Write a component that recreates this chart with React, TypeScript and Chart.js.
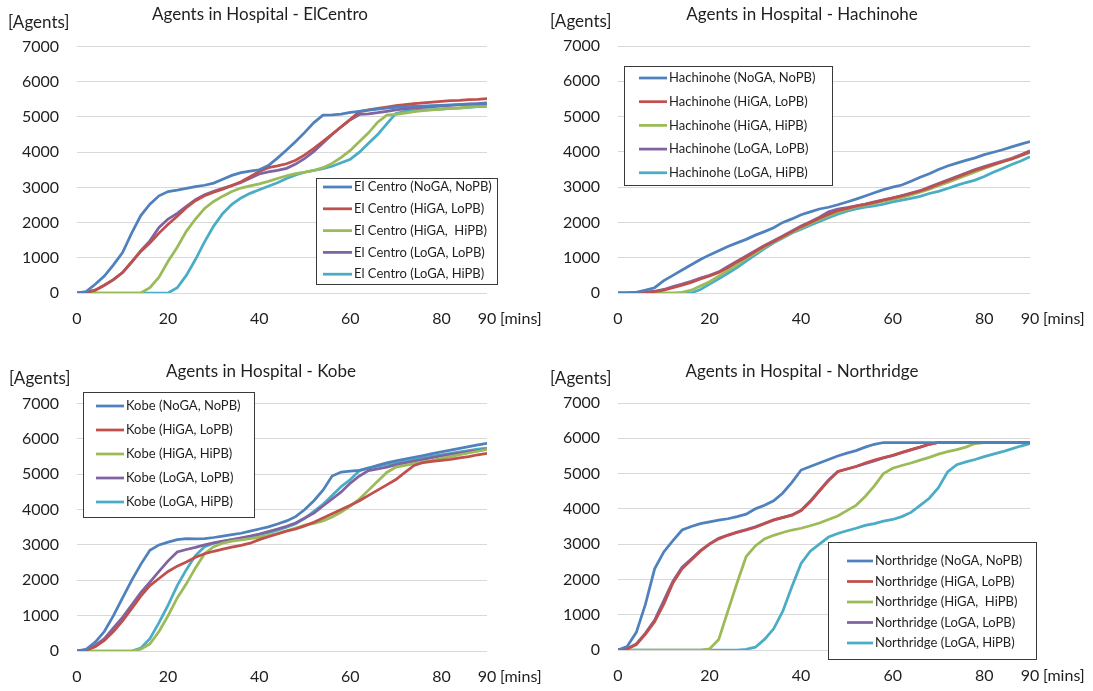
import React, { useEffect, useRef } from "react";
import { Chart, registerables } from "chart.js";

Chart.register(...registerables);

// ---------- data ----------
const MINUTES = [0, 2, 4, 6, 8, 10, 12, 14, 16, 18, 20, 22, 24, 26, 28, 30, 32, 34, 36, 38, 40, 42, 44, 46, 48, 50, 52, 54, 56, 58, 60, 62, 64, 66, 68, 70, 72, 74, 76, 78, 80, 82, 84, 86, 88, 90];
const X_TICKS = [0, 20, 40, 60, 80, 90];
const Y_MAX = 7000;
const Y_STEP = 1000;

const SERIES_COLORS = ["#4F81BD", "#C0504D", "#9BBB59", "#8064A2", "#4BACC6"];

// El Centro
const elCentroLabels = ["El Centro (NoGA, NoPB)", "El Centro (HiGA, LoPB)", "El Centro (HiGA,  HiPB)", "El Centro (LoGA, LoPB)", "El Centro (LoGA, HiPB)"];
const elCentroNoGaNoPb = [0, 40, 250, 480, 800, 1150, 1700, 2200, 2520, 2760, 2880, 2920, 2970, 3020, 3060, 3120, 3230, 3340, 3420, 3460, 3500, 3620, 3830, 4060, 4300, 4560, 4840, 5050, 5060, 5080, 5130, 5160, 5190, 5220, 5250, 5270, 5290, 5300, 5310, 5320, 5330, 5340, 5350, 5360, 5370, 5380];
const elCentroHiGaLoPb = [0, 10, 80, 220, 380, 580, 880, 1180, 1420, 1700, 1950, 2180, 2420, 2620, 2760, 2860, 2950, 3050, 3160, 3300, 3450, 3560, 3610, 3670, 3770, 3920, 4110, 4310, 4510, 4720, 4930, 5150, 5200, 5240, 5280, 5320, 5350, 5380, 5400, 5420, 5440, 5460, 5470, 5490, 5500, 5520];
const elCentroHiGaHiPb = [0, 0, 0, 0, 0, 0, 0, 0, 150, 450, 900, 1300, 1750, 2100, 2400, 2600, 2750, 2880, 2980, 3040, 3100, 3170, 3250, 3330, 3390, 3430, 3480, 3560, 3680, 3850, 4050, 4300, 4550, 4850, 5050, 5070, 5110, 5150, 5180, 5200, 5220, 5240, 5260, 5280, 5300, 5320];
const elCentroLoGaLoPb = [0, 10, 80, 220, 380, 580, 880, 1200, 1480, 1860, 2100, 2260, 2460, 2650, 2790, 2890, 2970, 3050, 3140, 3260, 3380, 3440, 3480, 3540, 3660, 3820, 4020, 4260, 4500, 4720, 4920, 5070, 5090, 5120, 5160, 5200, 5230, 5250, 5270, 5290, 5310, 5330, 5350, 5370, 5380, 5400];
const elCentroLoGaHiPb = [0, 0, 0, 0, 0, 0, 0, 0, 0, 0, 0, 150, 500, 950, 1450, 1900, 2260, 2520, 2700, 2830, 2930, 3030, 3130, 3250, 3350, 3430, 3480, 3530, 3600, 3700, 3800, 4000, 4250, 4500, 4800, 5100, 5160, 5180, 5200, 5210, 5220, 5240, 5250, 5270, 5290, 5300];

// Hachinohe
const hachinoheLabels = ["Hachinohe (NoGA, NoPB)", "Hachinohe (HiGA, LoPB)", "Hachinohe (HiGA, HiPB)", "Hachinohe (LoGA, LoPB)", "Hachinohe (LoGA, HiPB)"];
const hachinoheNoGaNoPb = [0, 5, 20, 80, 150, 350, 500, 650, 800, 950, 1080, 1200, 1320, 1420, 1520, 1640, 1740, 1850, 2000, 2100, 2220, 2300, 2380, 2430, 2500, 2580, 2660, 2750, 2840, 2930, 3000, 3060, 3170, 3280, 3380, 3500, 3600, 3680, 3760, 3830, 3920, 3990, 4060, 4140, 4220, 4290];
const hachinoheHiGaLoPb = [0, 0, 10, 20, 40, 80, 150, 220, 300, 400, 480, 580, 720, 880, 1020, 1180, 1330, 1460, 1600, 1740, 1880, 2000, 2120, 2230, 2330, 2400, 2460, 2510, 2570, 2630, 2690, 2750, 2820, 2890, 2980, 3080, 3180, 3280, 3380, 3480, 3560, 3640, 3720, 3800, 3900, 4000];
const hachinoheHiGaHiPb = [0, 0, 0, 0, 0, 0, 0, 20, 80, 200, 320, 480, 640, 800, 980, 1130, 1300, 1450, 1580, 1720, 1850, 1970, 2080, 2190, 2290, 2370, 2440, 2490, 2540, 2600, 2650, 2710, 2780, 2860, 2940, 3040, 3130, 3230, 3330, 3430, 3530, 3620, 3720, 3800, 3890, 3980];
const hachinoheLoGaLoPb = [0, 0, 10, 20, 50, 100, 180, 250, 330, 420, 500, 600, 750, 900, 1050, 1200, 1350, 1480, 1620, 1760, 1900, 2020, 2150, 2300, 2380, 2420, 2470, 2520, 2580, 2640, 2700, 2760, 2830, 2900, 3000, 3100, 3200, 3300, 3400, 3500, 3580, 3660, 3740, 3820, 3920, 4030];
const hachinoheLoGaHiPb = [0, 0, 0, 0, 0, 0, 0, 0, 0, 100, 250, 400, 560, 720, 900, 1080, 1260, 1420, 1560, 1700, 1810, 1920, 2030, 2130, 2230, 2320, 2380, 2430, 2470, 2520, 2580, 2630, 2680, 2740, 2820, 2880, 2960, 3050, 3130, 3200, 3300, 3420, 3530, 3640, 3740, 3860];

// Kobe
const kobeLabels = ["Kobe (NoGA, NoPB)", "Kobe (HiGA, LoPB)", "Kobe (HiGA, HiPB)", "Kobe (LoGA, LoPB)", "Kobe (LoGA, HiPB)"];
const kobeNoGaNoPb = [0, 50, 250, 550, 1000, 1500, 2000, 2450, 2850, 3000, 3080, 3150, 3180, 3170, 3180, 3210, 3250, 3290, 3330, 3390, 3450, 3510, 3590, 3680, 3800, 4000, 4250, 4550, 4950, 5060, 5090, 5110, 5170, 5250, 5320, 5380, 5430, 5480, 5530, 5580, 5630, 5680, 5730, 5780, 5830, 5870];
const kobeHiGaLoPb = [0, 20, 120, 300, 550, 850, 1200, 1550, 1850, 2050, 2250, 2400, 2520, 2650, 2750, 2820, 2880, 2940, 2990, 3050, 3150, 3230, 3310, 3390, 3450, 3540, 3640, 3760, 3880, 4000, 4120, 4250, 4400, 4550, 4700, 4850, 5050, 5250, 5330, 5360, 5390, 5420, 5460, 5500, 5550, 5590];
const kobeHiGaHiPb = [0, 0, 0, 0, 0, 0, 0, 50, 200, 550, 1000, 1500, 1900, 2350, 2750, 2950, 3050, 3110, 3140, 3180, 3220, 3270, 3330, 3400, 3480, 3560, 3610, 3680, 3790, 3930, 4100, 4300, 4550, 4800, 5050, 5200, 5250, 5300, 5350, 5390, 5450, 5500, 5550, 5600, 5650, 5700];
const kobeLoGaLoPb = [0, 30, 150, 350, 650, 950, 1300, 1650, 1950, 2250, 2550, 2800, 2870, 2930, 3000, 3060, 3110, 3150, 3200, 3250, 3310, 3380, 3450, 3530, 3620, 3760, 3900, 4100, 4300, 4500, 4750, 4950, 5100, 5150, 5200, 5270, 5320, 5370, 5420, 5470, 5520, 5560, 5600, 5640, 5670, 5710];
const kobeLoGaHiPb = [0, 0, 0, 0, 0, 0, 0, 80, 350, 800, 1300, 1850, 2300, 2700, 2950, 3050, 3100, 3150, 3180, 3230, 3290, 3350, 3420, 3500, 3600, 3750, 3950, 4150, 4400, 4650, 4850, 5100, 5180, 5230, 5280, 5330, 5380, 5430, 5470, 5510, 5550, 5590, 5630, 5670, 5710, 5740];

// Northridge
const northridgeLabels = ["Northridge (NoGA, NoPB)", "Northridge (HiGA, LoPB)", "Northridge (HiGA,  HiPB)", "Northridge (LoGA, LoPB)", "Northridge (LoGA, HiPB)"];
const northridgeNoGaNoPb = [0, 100, 500, 1300, 2300, 2780, 3100, 3400, 3500, 3580, 3630, 3680, 3720, 3780, 3850, 4000, 4100, 4230, 4450, 4750, 5100, 5200, 5300, 5400, 5500, 5580, 5650, 5750, 5830, 5880, 5880, 5880, 5880, 5880, 5880, 5880, 5880, 5880, 5880, 5880, 5880, 5880, 5880, 5880, 5880, 5880];
const northridgeHiGaLoPb = [0, 30, 150, 450, 800, 1300, 1900, 2300, 2550, 2800, 3000, 3150, 3250, 3330, 3400, 3480, 3580, 3680, 3750, 3820, 3950, 4200, 4500, 4800, 5050, 5130, 5200, 5300, 5380, 5450, 5520, 5600, 5680, 5750, 5830, 5880, 5880, 5880, 5880, 5880, 5880, 5880, 5880, 5880, 5880, 5880];
const northridgeHiGaHiPb = [0, 0, 0, 0, 0, 0, 0, 0, 0, 0, 30, 300, 1100, 1900, 2650, 2950, 3150, 3250, 3330, 3400, 3450, 3520, 3600, 3700, 3800, 3950, 4100, 4350, 4650, 5000, 5150, 5230, 5300, 5380, 5460, 5550, 5620, 5680, 5750, 5850, 5880, 5880, 5880, 5880, 5880, 5880];
const northridgeLoGaLoPb = [0, 40, 170, 480, 850, 1400, 1950, 2350, 2580, 2820, 3010, 3170, 3260, 3340, 3410, 3490, 3590, 3690, 3760, 3830, 3960, 4220, 4520, 4820, 5060, 5130, 5200, 5280, 5360, 5440, 5510, 5590, 5670, 5750, 5830, 5880, 5880, 5880, 5880, 5880, 5880, 5880, 5880, 5880, 5880, 5880];
const northridgeLoGaHiPb = [0, 0, 0, 0, 0, 0, 0, 0, 0, 0, 0, 0, 0, 0, 20, 80, 300, 600, 1100, 1800, 2450, 2800, 3000, 3200, 3300, 3380, 3450, 3530, 3580, 3650, 3700, 3780, 3900, 4100, 4300, 4600, 5050, 5250, 5330, 5400, 5480, 5550, 5620, 5700, 5780, 5850];

// ---------- styling ----------
const FONT = 'Lato, "Open Sans", sans-serif';
const TEXT = "#1f1f1f";
const GRID = "#D9D9D9";

type Layout = {
  left: number; top: number; w: number; h: number;
  area: { l: number; r: number; t: number; b: number };
  title: string; titleX: number; titleY: number;
  unitX: number; unitY: number;
  legend: { x: number; y: number; w: number; h: number; first: number; rowH: number; l0: number; l1: number; tx: number };
};

const decorPlugin = {
  id: "decor",
  afterDraw(chart: any, _args: any, opts: any) {
    const ctx = chart.ctx as CanvasRenderingContext2D;
    const a = chart.chartArea;
    ctx.save();
    ctx.fillStyle = TEXT;
    ctx.textBaseline = "middle";
    ctx.textAlign = "center";
    ctx.font = `17px ${FONT}`;
    ctx.fillText(opts.title, opts.titleX, opts.titleY);
    ctx.textAlign = "left";
    ctx.font = `17px ${FONT}`;
    ctx.fillText("[Agents]", opts.unitX, opts.unitY);
    const xs = chart.scales.x;
    ctx.font = `16px ${FONT}`;
    ctx.fillText("[mins]", xs.getPixelForValue(90) + 13, a.bottom + 26);
    const L = opts.legend;
    ctx.fillStyle = "#fff";
    ctx.fillRect(L.x, L.y, L.w, L.h);
    ctx.strokeStyle = "#3a3a3a";
    ctx.lineWidth = 1;
    ctx.strokeRect(L.x + 0.5, L.y + 0.5, L.w, L.h);
    chart.data.datasets.forEach((ds: any, i: number) => {
      const y = L.y + L.first + i * L.rowH;
      ctx.strokeStyle = ds.borderColor;
      ctx.lineWidth = 2.75;
      ctx.beginPath();
      ctx.moveTo(L.x + L.l0, y);
      ctx.lineTo(L.x + L.l1, y);
      ctx.stroke();
      ctx.fillStyle = TEXT;
      ctx.font = `13px ${FONT}`;
      ctx.textAlign = "left";
      ctx.fillText(ds.label, L.x + L.tx, y);
    });
    ctx.restore();
  },
};

const PANELS: { layout: Layout; labels: string[]; series: number[][] }[] = [
  {
    layout: {
      left: 0, top: 0, w: 546, h: 345,
      area: { l: 77, r: 487, t: 46.5, b: 293 },
      title: "Agents in Hospital - ElCentro", titleX: 260, titleY: 15,
      unitX: 8, unitY: 23,
      legend: { x: 316, y: 178, w: 181, h: 106, first: 9, rowH: 21.8, l0: 7, l1: 36, tx: 38 },
    },
    labels: elCentroLabels,
    series: [elCentroNoGaNoPb, elCentroHiGaLoPb, elCentroHiGaHiPb, elCentroLoGaLoPb, elCentroLoGaHiPb],
  },
  {
    layout: {
      left: 546, top: 0, w: 547, h: 345,
      area: { l: 72, r: 484, t: 46, b: 293 },
      title: "Agents in Hospital - Hachinohe", titleX: 256, titleY: 15,
      unitX: 4, unitY: 22,
      legend: { x: 78, y: 66, w: 208, h: 119, first: 12, rowH: 23.7, l0: 15, l1: 43, tx: 45 },
    },
    labels: hachinoheLabels,
    series: [hachinoheNoGaNoPb, hachinoheHiGaLoPb, hachinoheHiGaHiPb, hachinoheLoGaLoPb, hachinoheLoGaHiPb],
  },
  {
    layout: {
      left: 0, top: 345, w: 546, h: 346,
      area: { l: 77, r: 487, t: 58.5, b: 306 },
      title: "Agents in Hospital - Kobe", titleX: 261, titleY: 27,
      unitX: 9, unitY: 34,
      legend: { x: 83, y: 47, w: 171, h: 125, first: 14, rowH: 24, l0: 13, l1: 41, tx: 43 },
    },
    labels: kobeLabels,
    series: [kobeNoGaNoPb, kobeHiGaLoPb, kobeHiGaHiPb, kobeLoGaLoPb, kobeLoGaHiPb],
  },
  {
    layout: {
      left: 546, top: 345, w: 547, h: 346,
      area: { l: 72, r: 484, t: 58, b: 305 },
      title: "Agents in Hospital - Northridge", titleX: 256, titleY: 27,
      unitX: 4, unitY: 34,
      legend: { x: 282, y: 197, w: 208, h: 117, first: 19, rowH: 20.5, l0: 19, l1: 45, tx: 47 },
    },
    labels: northridgeLabels,
    series: [northridgeNoGaNoPb, northridgeHiGaLoPb, northridgeHiGaHiPb, northridgeLoGaLoPb, northridgeLoGaHiPb],
  },
];

function Panel({ layout, labels, series }: { layout: Layout; labels: string[]; series: number[][] }) {
  const ref = useRef<HTMLCanvasElement | null>(null);
  useEffect(() => {
    if (!ref.current) return;
    const A = layout.area;
    const chart = new Chart(ref.current, {
      type: "line",
      data: {
        datasets: series.map((vals, i) => ({
          label: labels[i],
          data: vals.map((v, j) => ({ x: MINUTES[j], y: v })),
          borderColor: SERIES_COLORS[i],
          backgroundColor: SERIES_COLORS[i],
          borderWidth: 2.75,
          pointRadius: 0,
          tension: 0,
          fill: false,
        })),
      },
      options: {
        animation: false,
        responsive: false,
        devicePixelRatio: 1,
        layout: { padding: { left: 0, top: A.t, right: layout.w - A.r, bottom: 0 } },
        plugins: {
          legend: { display: false },
          title: { display: false },
          tooltip: { enabled: false },
          decor: {
            title: layout.title, titleX: layout.titleX, titleY: layout.titleY,
            unitX: layout.unitX, unitY: layout.unitY, legend: layout.legend,
          },
        } as any,
        scales: {
          x: {
            type: "linear",
            min: 0,
            max: 90,
            grid: { display: false, drawTicks: false },
            border: { display: false },
            afterBuildTicks: (s: any) => { s.ticks = X_TICKS.map((v) => ({ value: v })); },
            afterFit: (s: any) => { s.height = layout.h - A.b; },
            ticks: { color: TEXT, font: { family: FONT, size: 16 }, padding: 16, maxRotation: 0, autoSkip: false, callback: (v: any) => String(v) },
          },
          y: {
            min: 0,
            max: Y_MAX,
            grid: { color: GRID, lineWidth: 1, drawTicks: false },
            border: { display: false },
            afterFit: (s: any) => { s.width = A.l; },
            ticks: { stepSize: Y_STEP, color: TEXT, font: { family: FONT, size: 16 }, padding: 18, callback: (v: any) => String(v) },
          },
        },
      },
      plugins: [decorPlugin],
    });
    return () => chart.destroy();
  }, []);
  return (
    <canvas
      ref={ref}
      width={layout.w}
      height={layout.h}
      style={{ position: "absolute", left: layout.left, top: layout.top, width: layout.w, height: layout.h }}
    />
  );
}

export default function App() {
  return (
    <div style={{ position: "fixed", left: 0, top: 0, width: 1093, height: 691, background: "#fff", overflow: "hidden" }}>
      {PANELS.map((p, i) => (
        <Panel key={i} layout={p.layout} labels={p.labels} series={p.series} />
      ))}
    </div>
  );
}
